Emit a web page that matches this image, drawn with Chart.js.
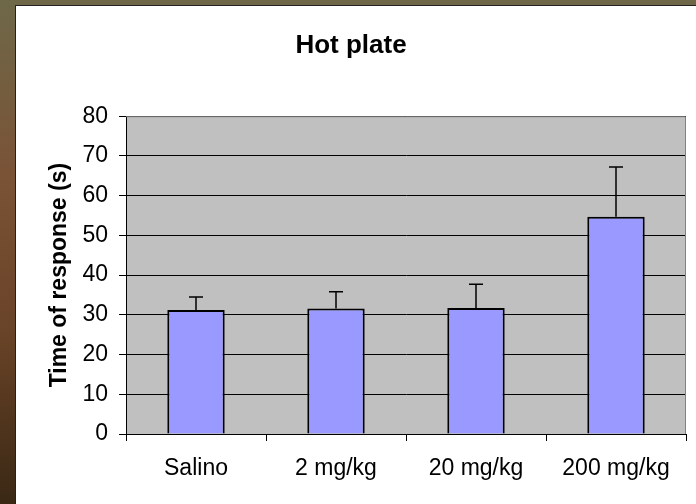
<!DOCTYPE html>
<html>
<head>
<meta charset="utf-8">
<script src="https://cdn.jsdelivr.net/npm/chart.js@4"></script>
<style>
  html, body { margin: 0; padding: 0; }
  body {
    width: 696px; height: 504px; overflow: hidden; position: relative;
    background: linear-gradient(180deg, #6e6848 0%, #7a5236 35%, #6a4428 65%, #3a2814 100%);
  }
  #panel {
    position: absolute; left: 15px; top: 5px; width: 681px; height: 499px;
    background: #fff; border-left: 1px solid #222; border-top: 1px solid #222;
    box-sizing: border-box;
  }
  canvas { position: absolute; left: 0; top: 0; }
</style>
</head>
<body>
<div id="panel"><canvas id="grafico" width="680" height="498"></canvas></div>
<script>
// Hot plate – tempo de resposta por dose
const categorias = ['Salino', '2 mg/kg', '20 mg/kg', '200 mg/kg'];
const medias = [31.2, 31.6, 31.7, 54.7];
const erros = [3.3, 4.2, 6.0, 12.5];
const ticksY = [0, 10, 20, 30, 40, 50, 60, 70, 80];

const fundoPlot = {
  id: 'fundoPlot',
  beforeDraw(chart) {
    const { ctx, chartArea: a } = chart;
    ctx.save();
    ctx.fillStyle = '#c0c0c0';
    ctx.fillRect(a.left, a.top, a.right - a.left, a.bottom - a.top);
    ctx.restore();
  },
  afterDatasetsDraw(chart) {
    const { ctx, chartArea: a } = chart;
    const y = chart.scales.y;
    const meta = chart.getDatasetMeta(0);
    ctx.save();
    ctx.strokeStyle = '#000';
    ctx.lineWidth = 1.5;
    meta.data.forEach((bar, i) => {
      const yTop = y.getPixelForValue(medias[i] + erros[i]);
      const yBase = y.getPixelForValue(medias[i]);
      ctx.beginPath();
      ctx.moveTo(bar.x, yBase);
      ctx.lineTo(bar.x, yTop);
      ctx.moveTo(bar.x - 7, yTop);
      ctx.lineTo(bar.x + 7, yTop);
      ctx.stroke();
    });
    // borda superior/direita cinza
    ctx.strokeStyle = '#808080';
    ctx.lineWidth = 1;
    ctx.beginPath();
    ctx.moveTo(a.left, a.top + 0.5);
    ctx.lineTo(a.right - 0.5, a.top + 0.5);
    ctx.lineTo(a.right - 0.5, a.bottom);
    ctx.stroke();
    ctx.restore();
  }
};

const ctx = document.getElementById('grafico').getContext('2d');
new Chart(ctx, {
  type: 'bar',
  data: {
    labels: categorias,
    datasets: [{
      data: medias,
      backgroundColor: '#9999ff',
      borderColor: '#000',
      borderWidth: 2,
      barPercentage: 0.41,
      categoryPercentage: 1
    }]
  },
  options: {
    responsive: false,
    animation: false,
    layout: { padding: { left: 0, right: 10, top: 0, bottom: 0 } },
    plugins: {
      legend: { display: false },
      tooltip: { enabled: false },
      title: {
        display: true,
        text: 'Hot plate',
        color: '#000',
        font: { family: 'Liberation Sans', size: 26, weight: 'bold' },
        padding: { top: 24, bottom: 55 }
      }
    },
    scales: {
      x: {
        afterFit(s) { s.height = 70; },
        grid: { drawOnChartArea: false, drawTicks: true, tickLength: 7, color: '#000' },
        border: { color: '#000', width: 1 },
        ticks: { color: '#000', padding: 14, maxRotation: 0, font: { family: 'Liberation Sans', size: 23 } }
      },
      y: {
        min: 0,
        max: 80,
        afterFit(s) { s.width = 110; },
        afterBuildTicks(s) { s.ticks = ticksY.map(v => ({ value: v })); },
        grid: { color: '#000', tickLength: 7, tickColor: '#000' },
        border: { color: '#000', width: 1 },
        ticks: { color: '#000', padding: 11, font: { family: 'Liberation Sans', size: 23 } },
        title: {
          display: true,
          text: 'Time of response (s)',
          color: '#000',
          font: { family: 'Liberation Sans', size: 23, weight: 'bold' },
          padding: { top: 30, bottom: 0 }
        }
      }
    }
  },
  plugins: [fundoPlot]
});
</script>
</body>
</html>
